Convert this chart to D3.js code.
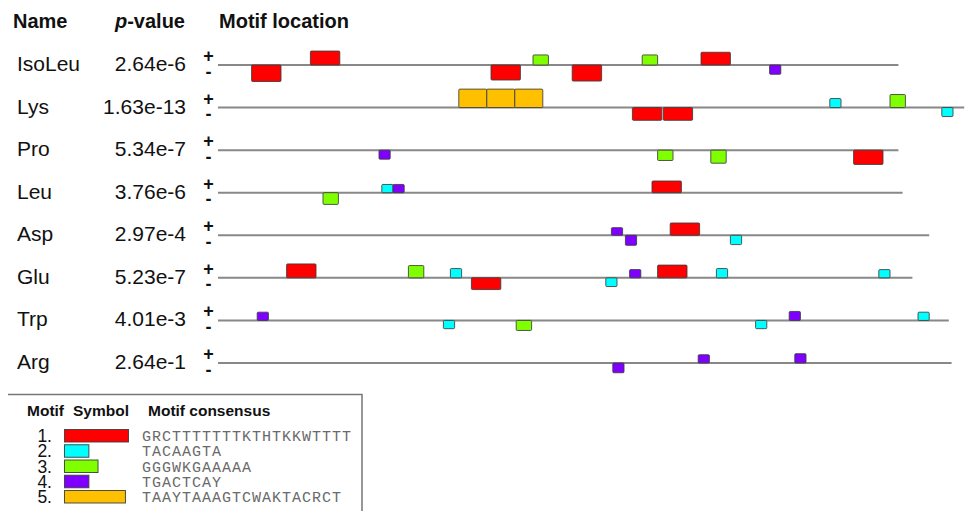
<!DOCTYPE html>
<html><head><meta charset="utf-8">
<script src="https://cdn.jsdelivr.net/npm/d3@7"></script>
<style>html,body{margin:0;padding:0;background:#fff;} svg{display:block;}</style>
</head><body>
<svg id="chart" width="968" height="511"></svg>
<script>
// Promoter sequences, one row each
const genes = ["IsoLeu", "Lys", "Pro", "Leu", "Asp", "Glu", "Trp", "Arg"];
const pValues = ["2.64e-6", "1.63e-13", "5.34e-7", "3.76e-6", "2.97e-4", "5.23e-7", "4.01e-3", "2.64e-1"];
const seqLengths = [486, 533, 486, 489, 508, 496, 522, 524];

// Motifs found by the search
const motifIds = [1, 2, 3, 4, 5];
const motifLengths = [21, 8, 11, 8, 20];
const motifConsensus = [
  "GRCTTTTTTTKTHTKKWTTTT",
  "TACAAGTA",
  "GGGWKGAAAAA",
  "TGACTCAY",
  "TAAYTAAAGTCWAKTACRCT"
];
const motifColors = ["#ff0000", "#00ffff", "#80ff00", "#8000ff", "#ffc000"];

// Motif sites: [gene, motif, strand, start (bp), site score (-log10 p)]
const sites = [
  ["IsoLeu", 1, "-", 24, 11.0],
  ["IsoLeu", 1, "+", 66, 9.3],
  ["IsoLeu", 1, "-", 195, 10.0],
  ["IsoLeu", 3, "+", 225, 6.7],
  ["IsoLeu", 1, "-", 253, 10.7],
  ["IsoLeu", 3, "+", 303, 6.7],
  ["IsoLeu", 1, "+", 345, 8.5],
  ["IsoLeu", 4, "-", 394, 6.2],
  ["Lys", 5, "+", 172, 12.3],
  ["Lys", 5, "+", 192, 12.3],
  ["Lys", 5, "+", 212, 12.3],
  ["Lys", 1, "-", 296, 8.5],
  ["Lys", 1, "-", 318, 8.5],
  ["Lys", 2, "+", 437, 6.0],
  ["Lys", 3, "+", 480, 8.7],
  ["Lys", 2, "-", 517, 6.0],
  ["Pro", 4, "-", 115, 6.0],
  ["Pro", 3, "-", 314, 6.9],
  ["Pro", 3, "-", 352, 8.7],
  ["Pro", 1, "-", 454, 9.5],
  ["Leu", 3, "-", 75, 7.8],
  ["Leu", 2, "+", 117, 5.5],
  ["Leu", 4, "+", 125, 5.5],
  ["Leu", 1, "+", 310, 7.8],
  ["Asp", 4, "+", 281, 5.1],
  ["Asp", 4, "-", 291, 6.7],
  ["Asp", 1, "+", 323, 8.2],
  ["Asp", 2, "-", 366, 6.2],
  ["Glu", 1, "+", 49, 9.3],
  ["Glu", 3, "+", 136, 8.2],
  ["Glu", 2, "+", 166, 6.2],
  ["Glu", 1, "-", 181, 7.8],
  ["Glu", 2, "-", 277, 5.8],
  ["Glu", 4, "+", 294, 5.5],
  ["Glu", 1, "+", 314, 8.5],
  ["Glu", 2, "+", 356, 6.2],
  ["Glu", 2, "+", 472, 5.5],
  ["Trp", 4, "+", 28, 5.5],
  ["Trp", 2, "-", 161, 5.5],
  ["Trp", 3, "-", 213, 6.7],
  ["Trp", 2, "-", 384, 5.5],
  ["Trp", 4, "+", 408, 6.0],
  ["Trp", 2, "+", 500, 5.5],
  ["Arg", 4, "-", 282, 6.5],
  ["Arg", 4, "+", 343, 5.5],
  ["Arg", 4, "+", 412, 6.2]
];

const svg = d3.select("#chart");
const sans = "'Liberation Sans', Arial, Helvetica, sans-serif";
const mono = "'Liberation Mono', 'Courier New', monospace";

svg.append("rect").attr("width", 968).attr("height", 511).attr("fill", "#fff");

// Scales: sequence position -> x, gene -> row baseline, site score -> block height
const x = d3.scaleLinear().domain([0, 535]).range([218, 967]);
const y = d3.scalePoint().domain(genes).range([65, 363]);
const h = d3.scaleLinear().domain([0, 12]).range([0, 18]);
const color = d3.scaleOrdinal().domain(motifIds).range(motifColors);
const motifLen = new Map(motifIds.map((m, i) => [m, motifLengths[i]]));

// Column headers
const head = svg.append("g").attr("font-family", sans).attr("font-weight", "bold")
  .attr("font-size", 20).attr("fill", "#111");
head.append("text").attr("x", 13).attr("y", 28).text("Name");
const pv = head.append("text").attr("x", 185).attr("y", 28).attr("text-anchor", "end");
pv.append("tspan").attr("font-style", "italic").text("p");
pv.append("tspan").text("-value");
head.append("text").attr("x", 219).attr("y", 28).text("Motif location");

// Rows
const rows = svg.append("g").selectAll("g").data(genes).join("g")
  .attr("transform", d => `translate(0,${y(d)})`);

rows.append("text").attr("x", 17).attr("y", 6)
  .attr("font-family", sans).attr("font-size", 21).attr("fill", "#111")
  .text(d => d);
rows.append("text").attr("x", 186).attr("y", 6).attr("text-anchor", "end")
  .attr("font-family", sans).attr("font-size", 21).attr("fill", "#111")
  .text((d, i) => pValues[i]);
// strand markers
rows.append("text").attr("x", 208.5).attr("y", -3).attr("text-anchor", "middle")
  .attr("font-family", sans).attr("font-size", 18).attr("font-weight", "bold").attr("fill", "#111")
  .text("+");
rows.append("text").attr("x", 208.5).attr("y", 12.5).attr("text-anchor", "middle")
  .attr("font-family", sans).attr("font-size", 18).attr("font-weight", "bold").attr("fill", "#111")
  .text("-");
rows.append("line")
  .attr("x1", x(0)).attr("x2", (d, i) => x(seqLengths[i]))
  .attr("y1", 0).attr("y2", 0)
  .attr("stroke", "#888").attr("stroke-width", 2);

// Motif site blocks: above the line for + strand, below for - strand
svg.append("g").selectAll("rect").data(sites).join("rect")
  .attr("x", d => x(d[3]))
  .attr("width", d => x(d[3] + motifLen.get(d[1])) - x(d[3]))
  .attr("y", d => d[2] === "+" ? y(d[0]) - h(d[4]) : y(d[0]))
  .attr("height", d => h(d[4]))
  .attr("rx", 1)
  .attr("fill", d => color(d[1]))
  .attr("stroke", "rgba(60,60,60,0.85)")
  .attr("stroke-width", 1);

// Legend
const lg = svg.append("g");
lg.append("path").attr("d", "M8,394.5H362V520").attr("fill", "none")
  .attr("stroke", "#777").attr("stroke-width", 1.5);
const lgHead = lg.append("g").attr("font-family", sans).attr("font-weight", "bold")
  .attr("font-size", 15.5).attr("fill", "#111");
lgHead.append("text").attr("x", 27).attr("y", 416).text("Motif");
lgHead.append("text").attr("x", 73).attr("y", 416).text("Symbol");
lgHead.append("text").attr("x", 148).attr("y", 416).text("Motif consensus");

const ly = d3.scalePoint().domain(motifIds).range([435.5, 496.5]);
const lw = d3.scaleLinear().domain([0, 21]).range([0, 64]);
const items = lg.selectAll("g.item").data(motifIds).join("g").attr("class", "item")
  .attr("transform", d => `translate(0,${ly(d)})`);
items.append("text").attr("x", 52).attr("y", 6.5).attr("text-anchor", "end")
  .attr("font-family", sans).attr("font-size", 17.5).attr("fill", "#111")
  .text(d => d + ".");
items.append("rect").attr("x", 64.5).attr("y", -6)
  .attr("width", (d, i) => lw(motifLengths[i])).attr("height", 12.5)
  .attr("fill", d => color(d)).attr("stroke", "rgba(60,60,60,0.9)").attr("stroke-width", 1);
items.append("text").attr("x", 142).attr("y", 5.5)
  .attr("font-family", mono).attr("font-size", 15).attr("letter-spacing", 1)
  .attr("fill", "#6a6a6a")
  .text((d, i) => motifConsensus[i]);
</script>
</body></html>
